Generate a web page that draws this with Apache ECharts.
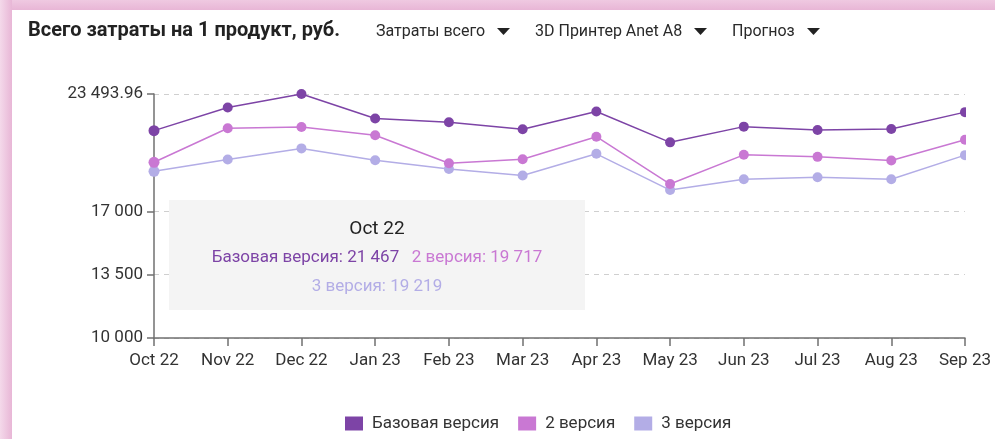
<!DOCTYPE html>
<html>
<head>
<meta charset="utf-8">
<script src="https://cdn.jsdelivr.net/npm/echarts@6/dist/echarts.min.js"></script>
<style>
html, body { margin: 0; padding: 0; width: 995px; height: 439px; overflow: hidden; background: #fff; }
#frameTop { position: absolute; left: 0; top: 0; width: 995px; height: 10px; background: linear-gradient(to bottom, #efc9e1, #e8b6d6); }
#frameLeft { position: absolute; left: 0; top: 0; width: 12px; height: 439px; background: linear-gradient(to right, #f4d9ea, #e8b6d6); }
#chart { position: absolute; left: 0; top: 0; width: 995px; height: 439px; }
</style>
</head>
<body>
<div id="frameTop"></div>
<div id="frameLeft"></div>
<div id="chart"></div>
<script>
// месяцы по оси X
var months = ['Oct 22', 'Nov 22', 'Dec 22', 'Jan 23', 'Feb 23', 'Mar 23', 'Apr 23', 'May 23', 'Jun 23', 'Jul 23', 'Aug 23', 'Sep 23'];

var seriesNames = ['Базовая версия', '2 версия', '3 версия'];
var seriesColors = ['#7d44a6', '#c978d3', '#b3ade6'];

// значения (Oct 22 - из подсказки)
var baseValues = [21467, 22748, 23493.96, 22135, 21934, 21544, 22525, 20820, 21689, 21506, 21561, 22491];
var v2Values = [19717, 21600, 21673, 21210, 19667, 19890, 21132, 18514, 20130, 20018, 19818, 20965];
var v3Values = [19219, 19873, 20486, 19835, 19350, 18982, 20185, 18180, 18776, 18888, 18776, 20113];

// подписи оси Y
var yTicks = [10000, 13500, 17000, 23493.96];

// фильтры в шапке
var filters = ['Затраты всего', '3D Принтер Anet A8', 'Прогноз'];

var FONT = 'Roboto, "Noto Sans", sans-serif';

function formatNum(v) {
    var s = (Math.round(v) === v) ? String(v) : v.toFixed(2);
    var parts = s.split('.');
    parts[0] = parts[0].replace(/\B(?=(\d{3})+(?!\d))/g, ' ');
    return parts.join('.');
}

var chart = echarts.init(document.getElementById('chart'), null, { renderer: 'canvas' });

var allValues = [baseValues, v2Values, v3Values];
var series = [];
for (var i = 0; i < seriesNames.length; i++) {
    series.push({
        name: seriesNames[i],
        type: 'line',
        data: allValues[i],
        symbol: 'circle',
        symbolSize: 10,
        showAllSymbol: true,
        itemStyle: { color: seriesColors[i] },
        lineStyle: { color: seriesColors[i], width: 1.5 },
        emphasis: { disabled: true },
        z: 10 - i
    });
}

// шапка: фильтры и треугольники
var filterX = [376, 535, 732];
var arrowX = [497, 694, 807];
var graphic = [];
for (var k = 0; k < filters.length; k++) {
    graphic.push({
        type: 'text',
        left: filterX[k],
        top: 24,
        style: { text: filters[k], fill: '#2a2a2a', font: '16px ' + FONT }
    });
    graphic.push({
        type: 'polygon',
        shape: { points: [[arrowX[k], 28], [arrowX[k] + 13, 28], [arrowX[k] + 6.5, 35]] },
        style: { fill: '#222' }
    });
}
// обрезка маркеров справа по краю сетки
graphic.push({
    type: 'rect',
    shape: { x: 966, y: 80, width: 29, height: 130 },
    style: { fill: '#fff' },
    z: 100
});

var option = {
    animation: false,
    textStyle: { fontFamily: FONT },
    title: {
        text: 'Всего затраты на 1 продукт, руб.',
        left: 28,
        top: 21,
        padding: 0,
        textStyle: { fontSize: 20, fontWeight: 'bold', color: '#222', fontFamily: FONT }
    },
    graphic: graphic,
    grid: {
        left: 154,
        right: 30,
        top: 94,
        bottom: 101,
        containLabel: false,
        outerBoundsMode: 'none'
    },
    legend: {
        data: seriesNames,
        left: 345,
        top: 415,
        padding: 0,
        icon: 'rect',
        itemWidth: 18,
        itemHeight: 14,
        itemGap: 19,
        selectedMode: false,
        textStyle: { fontSize: 17, color: '#333', fontFamily: FONT, padding: [0, 0, 0, 4] }
    },
    tooltip: {
        trigger: 'axis',
        triggerOn: 'none',
        alwaysShowContent: true,
        transitionDuration: 0,
        axisPointer: { type: 'none' },
        backgroundColor: '#f4f4f4',
        borderWidth: 0,
        padding: 0,
        position: [169, 200],
        extraCssText: 'width:416px;height:110px;box-sizing:border-box;box-shadow:none;border-radius:0;text-align:center;',
        formatter: function (params) {
            var idx = params[0].dataIndex;
            var line = function (si) {
                return '<span style="color:' + seriesColors[si] + '">' + seriesNames[si] + ': ' + formatNum(allValues[si][idx]) + '</span>';
            };
            return '<div style="font-family:Roboto,sans-serif;padding-top:16px;">' +
                '<div style="font-size:19px;color:#222;line-height:24px;">' + months[idx] + '</div>' +
                '<div style="font-size:17px;line-height:29px;margin-top:2px;">' + line(0) + '&nbsp;&nbsp;&nbsp;' + line(1) + '</div>' +
                '<div style="font-size:17px;line-height:29px;">' + line(2) + '</div>' +
                '</div>';
        }
    },
    xAxis: {
        type: 'category',
        data: months,
        boundaryGap: false,
        axisLine: { show: true, lineStyle: { color: '#707070', width: 1.5 } },
        axisTick: { show: true, length: 8, lineStyle: { color: '#707070', width: 1.5 } },
        axisLabel: { fontSize: 17, color: '#333', margin: 14, fontFamily: FONT, interval: 0 },
        splitLine: { show: false }
    },
    yAxis: {
        type: 'value',
        min: 10000,
        max: 23493.96,
        axisLine: { show: true, lineStyle: { color: '#707070', width: 1.5 } },
        axisTick: { show: true, length: 7, customValues: yTicks, lineStyle: { color: '#707070', width: 1.5 } },
        axisLabel: {
            fontSize: 17,
            color: '#333',
            margin: 11,
            fontFamily: FONT,
            customValues: yTicks,
            formatter: function (v) { return formatNum(v); }
        },
        splitLine: { show: true, lineStyle: { color: '#cfcfcf', type: [5, 5], width: 1 } }
    },
    series: series
};

chart.setOption(option);
chart.dispatchAction({ type: 'showTip', seriesIndex: 0, dataIndex: 0 });
</script>
</body>
</html>
